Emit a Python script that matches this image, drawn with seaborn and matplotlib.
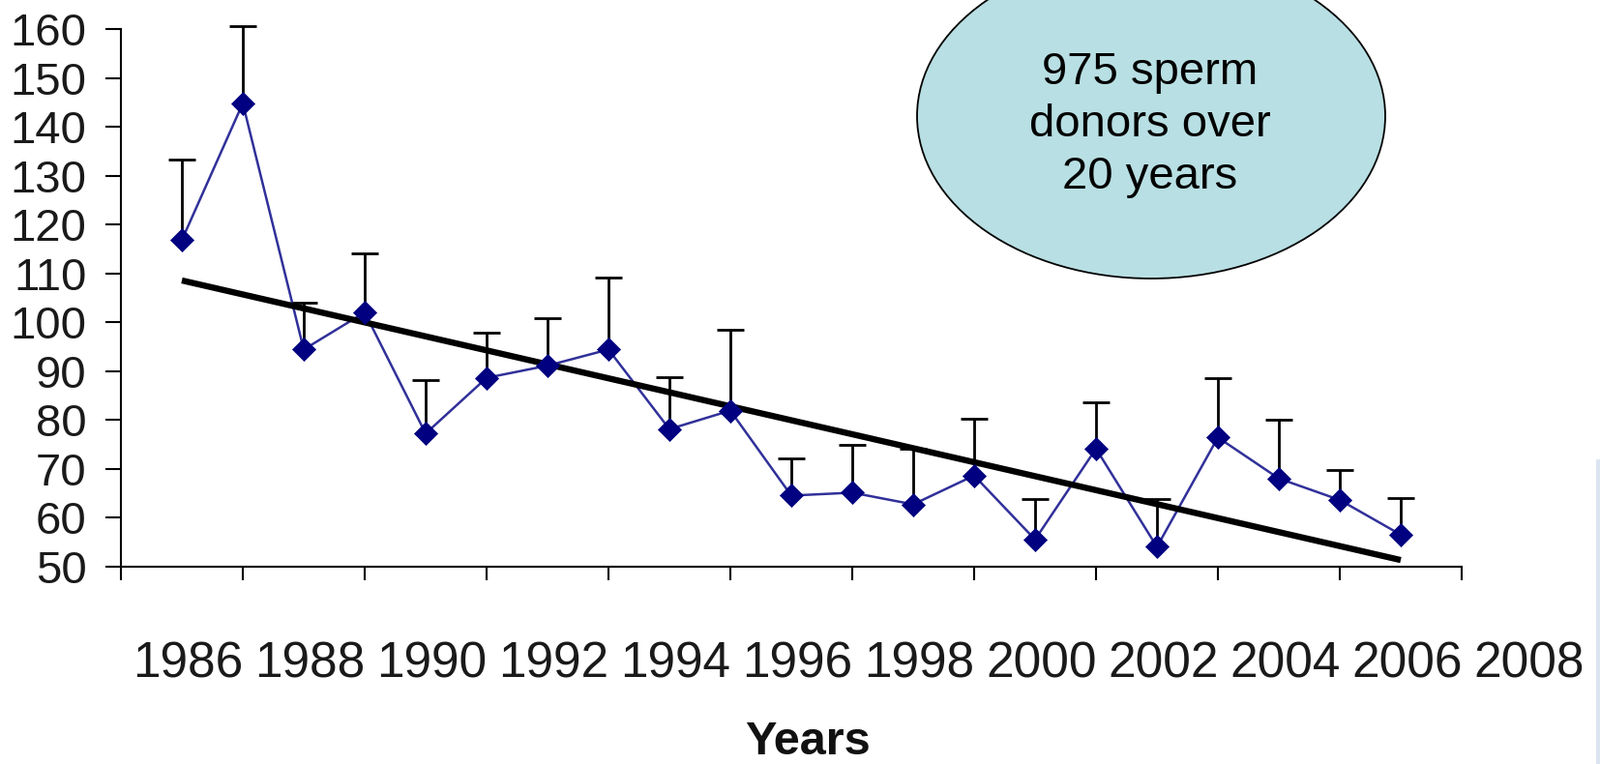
import numpy as np
import pandas as pd
import matplotlib
matplotlib.use("Agg")
import matplotlib.pyplot as plt
import matplotlib.transforms as mtransforms
from matplotlib.patches import Ellipse, Rectangle
import seaborn as sns

# ---------------- data ----------------
years = list(range(1986, 2007))
concentration = [116.8, 144.8, 94.4, 102.0, 77.2, 88.6, 91.1, 94.4, 78.1, 81.9,
                 64.5, 65.1, 62.7, 68.6, 55.5, 74.1, 54.0, 76.4, 68.0, 63.6, 56.5]
upper_bound = [133.3, 160.6, 103.9, 114.1, 88.1, 97.8, 100.9, 109.1, 88.8, 98.4,
               72.2, 74.9, 74.0, 80.3, 63.8, 83.5, 63.8, 88.6, 80.0, 69.7, 64.0]
ytick_values = list(range(50, 161, 10))
xtick_positions = list(range(1985, 2008, 2))
xlabel_positions = list(range(1986, 2009, 2))
xtick_labels = [str(y) for y in xlabel_positions]
x_title = "Years"
note_text = "975 sperm\ndonors over\n20 years"

# ---------------- style ----------------
sns.set_style("white")
plt.rcParams["font.family"] = ["Liberation Sans", "DejaVu Sans"]

W, H = 1654, 790
fig = plt.figure(figsize=(W / 100, H / 100), dpi=100)
fig.patch.set_facecolor("white")

ax_left, ax_right, ax_top, ax_bottom = 125, 1511, 30, 585.7
ax = fig.add_axes([ax_left / W, 1 - ax_bottom / H,
                   (ax_right - ax_left) / W, (ax_bottom - ax_top) / H])

df = pd.DataFrame({"year": years, "conc": concentration, "upper": upper_bound})
yerr = np.vstack([np.zeros(len(df)), (df["upper"] - df["conc"]).to_numpy()])

eb = ax.errorbar(df["year"], df["conc"], yerr=yerr, fmt="none", ecolor="black",
                 elinewidth=2.0, capsize=10, capthick=2.0, clip_on=False,
                 zorder=2)
# plus-only error bars: hide the lower caps
caplines = eb[1]
if len(caplines) >= 2:
    caplines[0].set_visible(False)

sns.lineplot(data=df, x="year", y="conc", ax=ax, color="#30309a", lw=1.8,
             zorder=2.5)
sns.regplot(data=df, x="year", y="conc", ax=ax, scatter=False, ci=None,
            truncate=True,
            line_kws=dict(color="black", lw=4.6, zorder=3,
                          solid_capstyle="butt"))
sns.scatterplot(data=df, x="year", y="conc", ax=ax, marker="D", s=150,
                color="#000080", edgecolor="#000080", linewidth=0.5,
                zorder=4, clip_on=False)

ax.set_xlim(1985, 2007)
ax.set_ylim(50, 160)
ax.set_xticks(xtick_positions)
ax.set_xticklabels([])
ax.set_yticks(ytick_values)
ax.set_yticklabels([str(v) for v in ytick_values], fontsize=34,
                   color="#1a1a1a")
ax.tick_params(axis="y", left=True, direction="out", length=11.5, width=1.5,
               pad=14, color="black")
ax.tick_params(axis="x", bottom=True, direction="out", length=10, width=1.5,
               color="black")
ax.set_xlabel("")
ax.set_ylabel("")
sns.despine(ax=ax)
for side in ("left", "bottom"):
    ax.spines[side].set_color("black")
    ax.spines[side].set_linewidth(1.5)

trans = mtransforms.blended_transform_factory(ax.transData, ax.transAxes)
for pos, lab in zip(xlabel_positions, xtick_labels):
    ax.text(pos + 0.1, -0.183, lab, transform=trans, ha="center", va="center",
            fontsize=37, color="#1a1a1a", clip_on=False)

fig.text(835 / W, 1 - 767 / H, x_title, fontsize=35, fontweight="bold",
         ha="center", va="center", color="#111111")

# annotation bubble
fig.add_artist(Ellipse((1190 / W, 1 - 120 / H), 484 / W, 336 / H,
                       transform=fig.transFigure, facecolor="#b8dfe3",
                       edgecolor="black", lw=1.3, zorder=5))
fig.text(1189 / W, 1 - 129 / H, note_text, ha="center", va="center",
         multialignment="center", fontsize=34, linespacing=1.28,
         color="black", zorder=6)

# thin light-blue strip at right edge
fig.add_artist(Rectangle((1650 / W, 0), 4 / W, 1 - 475 / H,
                         transform=fig.transFigure, facecolor="#dbe5f1",
                         edgecolor="none", zorder=1))

fig.savefig("out.png", dpi=100)
